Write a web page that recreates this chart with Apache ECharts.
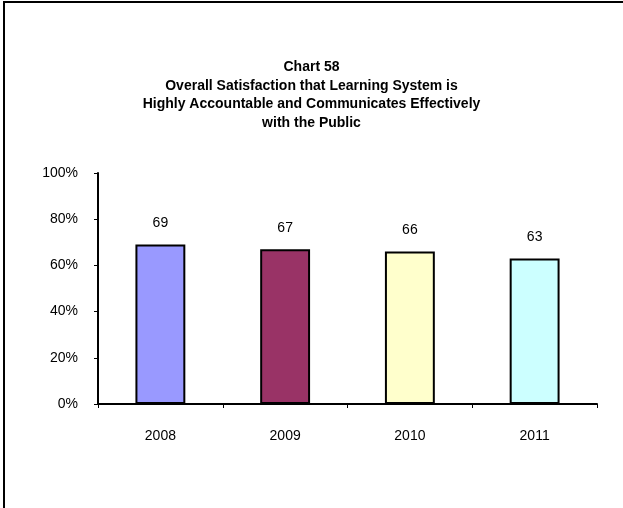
<!DOCTYPE html>
<html>
<head>
<meta charset="utf-8">
<script src="https://cdn.jsdelivr.net/npm/echarts@6/dist/echarts.min.js"></script>
<style>html,body{margin:0;padding:0;background:#fff}#c{width:623px;height:508px}</style>
</head>
<body>
<div id="c"></div>
<script>
const categories = ['2008', '2009', '2010', '2011'];
const values = [69, 67, 66, 63];
const barColors = ['#9999FF', '#993366', '#FFFFCC', '#CCFFFF'];
const titleLines = ['Chart 58', 'Overall Satisfaction that Learning System is', 'Highly Accountable and Communicates Effectively', 'with the Public'];

const chart = echarts.init(document.getElementById('c'), null, {renderer: 'canvas'});
chart.setOption({
  backgroundColor: '#fff',
  animation: false,
  title: {
    text: titleLines.join('\n'),
    left: 'center',
    top: 53,
    textStyle: {fontFamily: 'Liberation Sans, Arial', fontSize: 14, fontWeight: 'bold', color: '#000', lineHeight: 18.5}
  },
  graphic: [
    {type: 'line', shape: {x1: 3, y1: 2, x2: 623, y2: 2}, style: {stroke: '#000', lineWidth: 2}},
    {type: 'line', shape: {x1: 4, y1: 1, x2: 4, y2: 508}, style: {stroke: '#000', lineWidth: 2}}
  ],
  grid: {left: 98, top: 173, width: 499, height: 231, containLabel: false},
  xAxis: {
    type: 'category',
    data: categories,
    axisLine: {lineStyle: {color: '#000', width: 2}},
    axisTick: {show: true, length: 4, lineStyle: {color: '#000', width: 1}},
    axisLabel: {fontFamily: 'Liberation Sans, Arial', fontSize: 14, color: '#000', margin: 25}
  },
  yAxis: {
    type: 'value',
    min: 0, max: 100, interval: 20,
    axisLine: {show: true, lineStyle: {color: '#000', width: 2}},
    axisTick: {show: true, length: 4, lineStyle: {color: '#000', width: 1}},
    splitLine: {show: false},
    axisLabel: {fontFamily: 'Liberation Sans, Arial', fontSize: 14, color: '#000', margin: 20, formatter: '{value}%'}
  },
  series: [{
    type: 'bar',
    data: values.map((v, i) => ({value: v, itemStyle: {color: barColors[i]}})),
    barWidth: '40%',
    itemStyle: {borderColor: '#000', borderWidth: 2},
    label: {show: true, position: 'top', distance: 14, fontFamily: 'Liberation Sans, Arial', fontSize: 14, color: '#000'}
  }]
});
</script>
</body>
</html>
